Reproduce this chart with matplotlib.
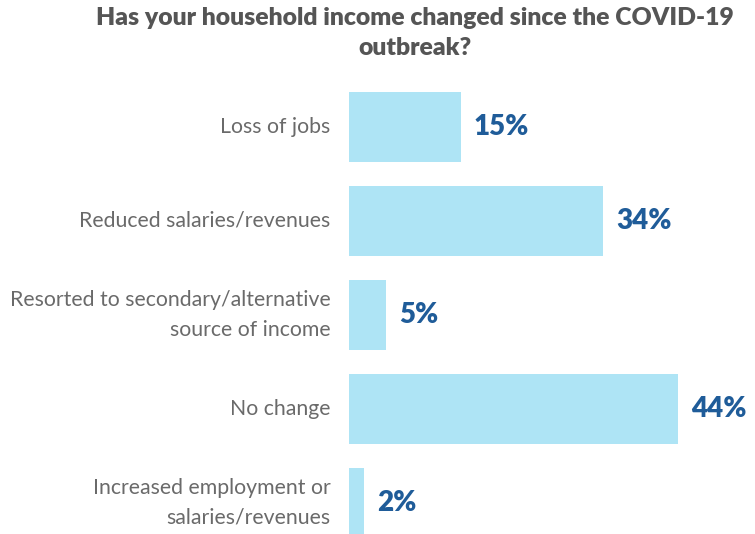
import matplotlib.pyplot as plt

categories = [
    "Loss of jobs",
    "Reduced salaries/revenues",
    "Resorted to secondary/alternative\nsource of income",
    "No change",
    "Increased employment or\nsalaries/revenues",
]
values = [15, 34, 5, 44, 2]
value_labels = ["15%", "34%", "5%", "44%", "2%"]

title = "Has your household income changed since the COVID-19\noutbreak?"

W, H = 755, 534
fig = plt.figure(figsize=(W / 100, H / 100), dpi=100)
fig.patch.set_facecolor("white")

# axes occupies the right part; x=0 at pixel 349
ax = fig.add_axes([349 / W, 0, (W - 349) / W, (534 - 80) / H])
ax.set_xlim(0, (W - 349) / 7.48)
ax.set_ylim(4.33, -0.5)

ypos = list(range(len(categories)))
ax.barh(ypos, values, height=0.745, color="#AEE4F5", edgecolor="none")

for y, v, lab in zip(ypos, values, value_labels):
    ax.text(v + 1.7, y, lab, va="center", ha="left", fontsize=20,
            fontweight="heavy", color="#1F5C99", family="Lato",
            clip_on=False)

for y, c in zip(ypos, categories):
    ax.text(-2.5, y, c, va="center", ha="right", fontsize=15.3,
            fontweight="normal", color="#6A6A6A", family="Lato",
            linespacing=1.6, clip_on=False)

ax.axis("off")

fig.text(415 / W, 1 - 33 / H, title, ha="center", va="center",
         fontsize=17.8, fontweight="heavy", color="#555555", family="Lato",
         linespacing=1.4)

fig.savefig("out.png", dpi=100)
